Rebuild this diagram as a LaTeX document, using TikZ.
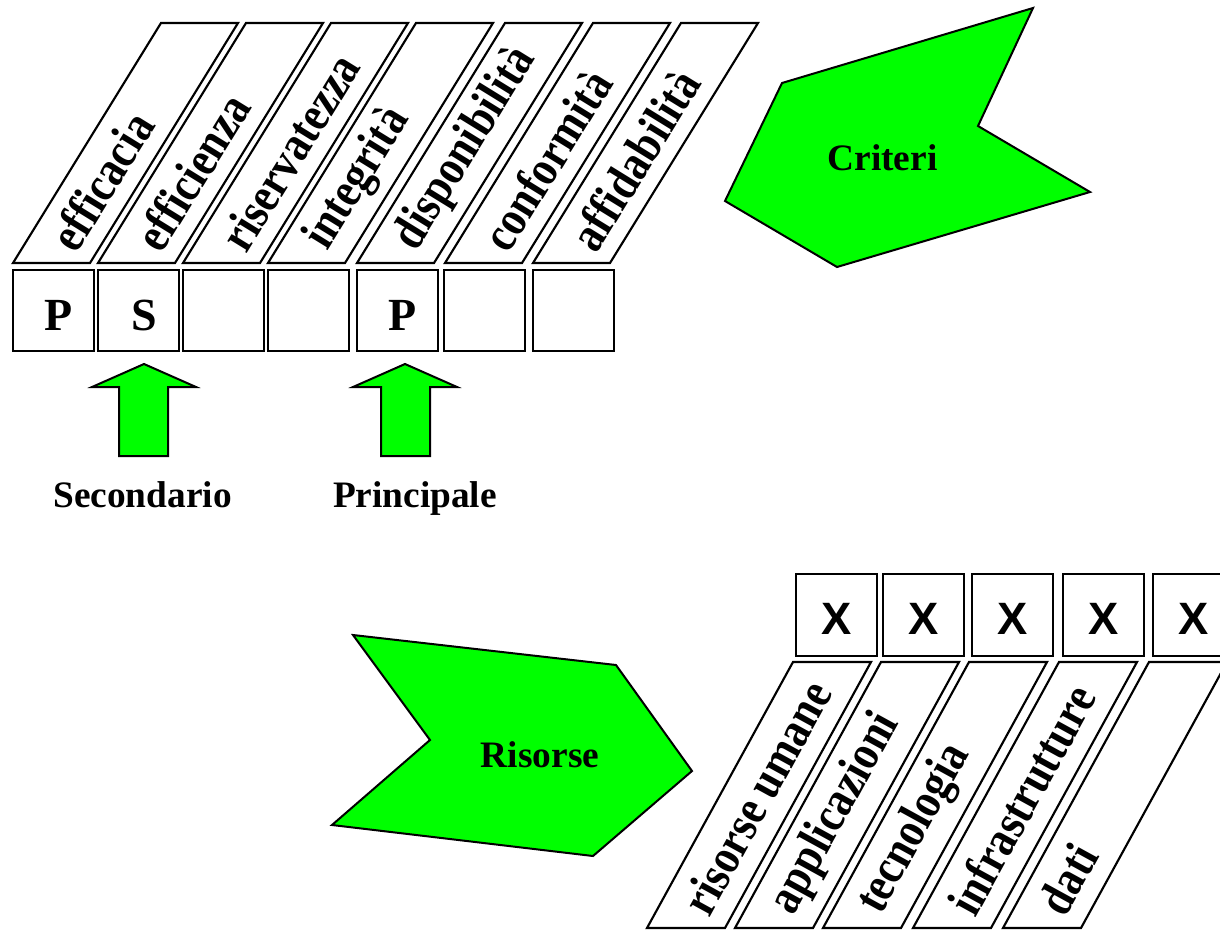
\documentclass[tikz,border=0pt]{standalone}
\usepackage{fontspec}
\setmainfont{Liberation Serif}
\newfontfamily\arialfont{Liberation Sans}
\definecolor{vivid}{RGB}{0,255,0}
\begin{document}
\begin{tikzpicture}[x=0.75pt,y=-0.75pt,
  outline/.style={draw=black,line width=1.6pt,line join=miter,fill=white},
  blockarrow/.style={draw=black,line width=1.5pt,line join=miter,fill=vivid},
  slantlabel/.style={anchor=west,inner sep=0pt,yscale=1.16,font=\bfseries\fontsize{32}{36}\selectfont},
  cellletter/.style={anchor=base,inner sep=0pt,font=\bfseries\fontsize{34.5}{40}\selectfont},
  xletter/.style={anchor=base,inner sep=0pt,font=\arialfont\bfseries\fontsize{34}{40}\selectfont},
  caption/.style={anchor=base,inner sep=0pt,font=\bfseries\fontsize{28}{32}\selectfont}]

\useasboundingbox (0,0) rectangle (1220,932);
\clip (0,0) rectangle (1220,932);

% ---- criteria: slanted tabs with their cells below ----
\foreach \xb/\lab/\i in {13/efficacia/1, 98/efficienza/2, 183/riservatezza/3,
    268/integrità/4, 357/disponibilità/5, 445/conformità/6, 533/affidabilità/7}{
  \draw[outline] (\xb,263) -- (\xb+77,263) -- (\xb+225,23) -- (\xb+148,23) -- cycle;
  \node[rotate=58.34,slantlabel] (crit-\i) at (\xb+49,246) {\lab};
}
\foreach \xb in {13,98,183,268,357,444,533}
  \draw[outline] (\xb,270) rectangle (\xb+81,351);

\node[cellletter] (cell-p1) at (59,330) {P};
\node[cellletter] (cell-s)  at (144,330) {S};
\node[cellletter] (cell-p2) at (403,330) {P};

% ---- up arrows and their captions ----
\draw[blockarrow] (144,364) -- (196,387) -- (168,387) -- (168,456) -- (119,456)
  -- (119,387) -- (92,387) -- cycle;
\draw[blockarrow] (405,364) -- (457,387) -- (430,387) -- (430,456) -- (381,456)
  -- (381,387) -- (353,387) -- cycle;
\node[caption] (secondario) at (142.5,507) {Secondario};
\node[caption] (principale) at (415,507) {Principale};

% ---- Criteri block ----
\draw[blockarrow] (782,83) -- (1033,8) -- (978,126) -- (1090,192) -- (837,267)
  -- (725,201) -- cycle;
\node[caption] (criteri) at (882.5,170) {Criteri};

% ---- Risorse block ----
\draw[blockarrow] (353,635) -- (616,665) -- (692,771) -- (593,856) -- (332,825)
  -- (430,740) -- cycle;
\node[caption] (risorse) at (540,767) {Risorse};

% ---- resources: cells on top, slanted tabs below ----
\foreach \xb/\i in {796/1,883/2,972/3,1063/4,1153/5}{
  \draw[outline] (\xb,574) rectangle (\xb+81,656);
  \node[xletter] (res-x\i) at (\xb+40.5,634) {X};
}
\foreach \xb/\lab/\i in {647/risorse umane/1, 735/applicazioni/2, 823/tecnologia/3,
    913/infrastrutture/4, 1003/dati/5}{
  \draw[outline] (\xb,928) -- (\xb+78,928) -- (\xb+224,662) -- (\xb+146,662) -- cycle;
  \node[rotate=61.24,slantlabel] (res-\i) at (\xb+47.6,910.5) {\lab};
}
\end{tikzpicture}
\end{document}
